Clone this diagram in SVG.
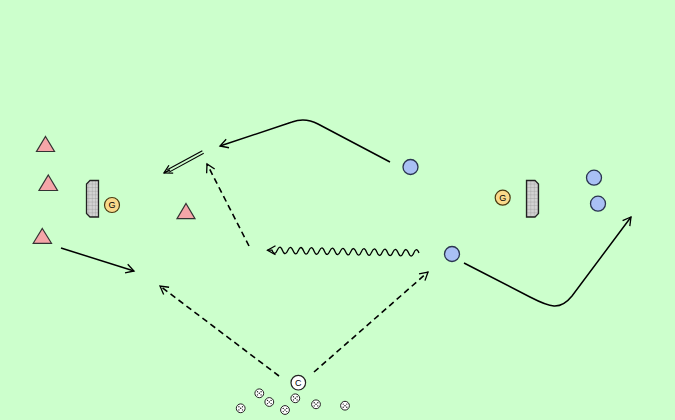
<svg xmlns="http://www.w3.org/2000/svg" xmlns:xlink="http://www.w3.org/1999/xlink" width="675" height="420" viewBox="0 0 675 420">
<style>
.tri{fill:#f5a6a8;stroke:#333;stroke-width:1.2}
.blue{fill:#a9c0f4;stroke:#2a3550;stroke-width:1.3}
.gk{fill:#f9d98b;stroke:#4a3a10;stroke-width:1.2}
.lbl{font-family:"Liberation Sans",Arial,sans-serif;font-size:9px;fill:#000;text-anchor:middle}
.goal{fill:url(#net);stroke:#222;stroke-width:1.3}
.solid{fill:none;stroke:#000;stroke-width:1.5;marker-end:url(#ah)}
.dash{fill:none;stroke:#000;stroke-width:1.6;stroke-dasharray:6,4;marker-end:url(#ah)}
.wave{fill:none;stroke:#000;stroke-width:1.3;marker-end:url(#ah)}
</style>
<defs>
<marker id="ah" viewBox="-10 -6 12 12" refX="0" refY="0" markerWidth="12" markerHeight="12" markerUnits="userSpaceOnUse" orient="auto">
<path d="M-8,-4.5 L0,0 L-8,4.5" fill="none" stroke="#000" stroke-width="1.3" stroke-dasharray="none"/>
</marker>
<pattern id="net" width="3.4" height="3.6" patternUnits="userSpaceOnUse">
<rect width="3.4" height="3.6" fill="#d2d2d2"/>
<path d="M0,0 H3.4 M0,0 V3.6" stroke="#8a8a8a" stroke-width="0.6"/>
</pattern>
<g id="ball">
<circle r="4.4" fill="#fff" stroke="#222" stroke-width="1"/>
<circle r="0.8" fill="#222"/>
<circle cx="-1.8" cy="-1.6" r="0.7" fill="#222"/>
<circle cx="1.8" cy="-1.6" r="0.7" fill="#222"/>
<circle cx="-1.8" cy="1.6" r="0.7" fill="#222"/>
<circle cx="1.8" cy="1.6" r="0.7" fill="#222"/>
</g>
</defs>
<rect width="675" height="420" fill="#ccffcc"/>

<g id="connectors">
<path class="solid" d="M61,248 L134,271"/>
<path class="dash" d="M279,376 L160,286"/>
<path class="dash" d="M314,372 L428,272"/>
<path class="dash" d="M249,246 L207,164"/>
<path class="wave" d="M419,253 q-2.625,-6.5 -5.25,-0.1 t-5.25,-0.1 t-5.25,-0.1 t-5.25,-0.1 t-5.25,-0.1 t-5.25,-0.1 t-5.25,-0.1 t-5.25,-0.1 t-5.25,-0.1 t-5.25,-0.1 t-5.25,-0.1 t-5.25,-0.1 t-5.25,-0.1 t-5.25,-0.1 t-5.25,-0.1 t-5.25,-0.1 t-5.25,-0.1 t-5.25,-0.1 t-5.25,-0.1 t-5.25,-0.1 t-5.25,-0.1 t-5.25,-0.1 t-5.25,-0.1 t-5.25,-0.1 t-5.25,-0.1 t-5.25,-0.1 t-5.25,-0.1 t-5.25,-0.1 l-4.5,0"/>
<path class="solid" d="M390,162 L318,124 Q305,117 292,122 L220,146"/>
<path class="solid" d="M464,263 L530,297 C550,307.3 560,311 572,296 L631,217"/>
<g id="double-arrow">
<path d="M203,152 L168,171" fill="none" stroke="#000" stroke-width="4"/>
<path d="M204,151.5 L167,171.6" fill="none" stroke="#ccffcc" stroke-width="1.8"/>
<path class="solid" d="M170,169.8 L164,173" stroke-width="1"/>
</g>
</g>

<g id="tri1"><polygon class="tri" points="45.5,136.5 54.5,151.5 36.5,151.5"/></g>
<g id="tri2"><polygon class="tri" points="48.3,175 57.5,190.5 39,190.5"/></g>
<g id="tri3"><polygon class="tri" points="42.3,228.5 51.5,243.3 33.2,243.3"/></g>
<g id="tri4"><polygon class="tri" points="186,203.5 195,218.7 177,218.7"/></g>

<g id="goal-left"><path class="goal" d="M98.5,180.5 L90,180.5 L86.5,184 L86.5,213.5 L90,217 L98.5,217 Z"/></g>
<g id="gk-left"><circle class="gk" cx="112" cy="205" r="7.5"/><text class="lbl" x="112" y="208.2">G</text></g>

<g id="goal-right"><path class="goal" d="M526.5,180.5 L535,180.5 L538.5,184 L538.5,213.5 L535,217 L526.5,217 Z"/></g>
<g id="gk-right"><circle class="gk" cx="502.7" cy="197.7" r="7.5"/><text class="lbl" x="502.7" y="200.9">G</text></g>

<g id="blue1"><circle class="blue" cx="410.5" cy="167" r="7.5"/></g>
<g id="blue2"><circle class="blue" cx="594" cy="177.7" r="7.5"/></g>
<g id="blue3"><circle class="blue" cx="598" cy="203.7" r="7.5"/></g>
<g id="blue4"><circle class="blue" cx="452" cy="254" r="7.5"/></g>

<g id="coach"><circle cx="298.3" cy="382.7" r="7.3" fill="#fff" stroke="#222" stroke-width="1.2"/><text class="lbl" x="298.3" y="385.9">C</text></g>

<g id="balls">
<use xlink:href="#ball" x="259.3" y="393.3"/>
<use xlink:href="#ball" x="269.3" y="402"/>
<use xlink:href="#ball" x="295.3" y="398.3"/>
<use xlink:href="#ball" x="240.7" y="408.3"/>
<use xlink:href="#ball" x="285" y="410"/>
<use xlink:href="#ball" x="316" y="404.3"/>
<use xlink:href="#ball" x="345" y="405.7"/>
</g>
</svg>
